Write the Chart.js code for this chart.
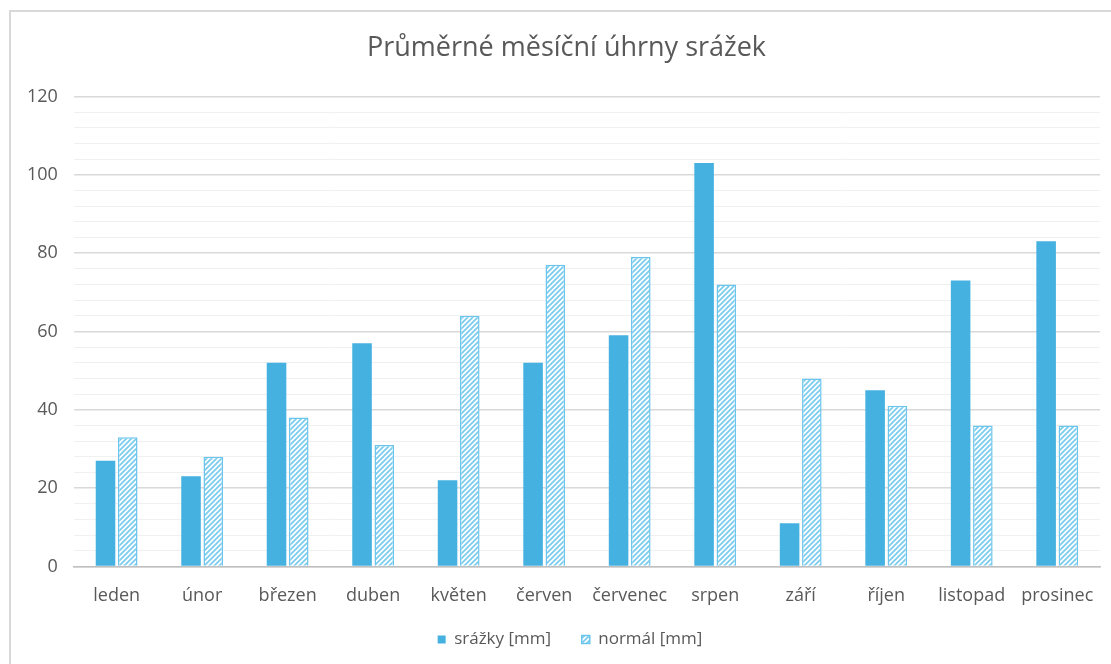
<!DOCTYPE html>
<html lang="cs">
<head>
<meta charset="UTF-8">
<title>Průměrné měsíční úhrny srážek</title>
<script src="https://cdn.jsdelivr.net/npm/chart.js@4.4.1/dist/chart.umd.min.js"></script>
<style>
    body{
        margin: 0;
        padding: 0;
        background: white;
        overflow: hidden;
    }
    .frame{
        position: absolute;
        left: 9px;
        top: 10px;
        width: 1130px;
        height: 700px;
        border: 2px solid #d9d9d9;
    }
    .wrap{
        position: absolute;
        left: 0;
        top: 0;
        width: 1111px;
        height: 664px;
    }
</style>
</head>
<body>
<div class="frame"></div>
<div class="wrap"><canvas id="chart"></canvas></div>
<script>
    const months = ['leden','únor','březen','duben','květen','červen','červenec','srpen','září','říjen','listopad','prosinec'];
    const srazky = [27, 23, 52, 57, 22, 52, 59, 103, 11, 45, 73, 83];
    const normal = [33, 28, 38, 31, 64, 77, 79, 72, 48, 41, 36, 36];
    const yMax = 120;

    const blue = '#45b1e1';
    const lightBlue = '#7fcdee';

    // diagonal hatch for the "normal" series
    function hatch(){
        const s = 5;
        const c = document.createElement('canvas');
        c.width = s; c.height = s;
        const g = c.getContext('2d');
        g.fillStyle = 'white';
        g.fillRect(0, 0, s, s);
        g.strokeStyle = lightBlue;
        g.lineWidth = 1.9;
        g.beginPath();
        g.moveTo(0, s); g.lineTo(s, 0);
        g.moveTo(-1, 1); g.lineTo(1, -1);
        g.moveTo(s - 1, s + 1); g.lineTo(s + 1, s - 1);
        g.stroke();
        return g.createPattern(c, 'repeat');
    }

    // original frame is cropped on the right, so title and legend sit a bit right of the canvas centre
    const nudge = {
        id: 'nudge',
        afterLayout(chart){
            if (chart.titleBlock) chart.titleBlock.left += 22;
            if (chart.legend) chart.legend.left += 29;
        }
    };

    const font = "'Open Sans', sans-serif";
    const grey = '#595959';

    new Chart(document.getElementById('chart'), {
        type: 'bar',
        data: {
            labels: months,
            datasets: [{
                // trailing spaces widen the gap to the second legend item
                label: 'srážky [mm]    ',
                data: srazky,
                backgroundColor: blue,
                borderColor: blue,
                borderWidth: 0
            }, {
                label: 'normál [mm]',
                data: normal,
                backgroundColor: hatch(),
                borderColor: '#6cc5ec',
                borderWidth: 1.5
            }]
        },
        options: {
            responsive: true,
            maintainAspectRatio: false,
            animation: false,
            categoryPercentage: 0.52,
            barPercentage: 0.88,
            layout: { padding: { left: 11, right: 11, top: 24, bottom: 6 } },
            plugins: {
                title: {
                    display: true,
                    text: 'Průměrné měsíční úhrny srážek',
                    color: grey,
                    font: { family: font, size: 27, weight: 'normal' },
                    padding: { top: 8, bottom: 32 }
                },
                legend: {
                    position: 'bottom',
                    labels: {
                        color: grey,
                        font: { family: font, size: 17 },
                        boxWidth: 8,
                        boxHeight: 8,
                        padding: 13
                    }
                },
                tooltip: { enabled: false }
            },
            scales: {
                x: {
                    grid: { display: false },
                    border: { color: '#bfbfbf', width: 1.5 },
                    ticks: { color: grey, font: { family: font, size: 18 }, padding: 11 }
                },
                y: {
                    min: 0,
                    max: yMax,
                    border: { display: false },
                    grid: {
                        color: ctx => ctx.tick.value % 20 === 0 ? '#d9d9d9' : '#f0f0f0',
                        lineWidth: ctx => ctx.tick.value % 20 === 0 ? 1.5 : 1,
                        drawTicks: false
                    },
                    ticks: {
                        stepSize: 4,
                        autoSkip: false,
                        color: grey,
                        font: { family: font, size: 18 },
                        padding: 16,
                        callback: v => v % 20 === 0 ? v : ''
                    }
                }
            }
        },
        plugins: [nudge]
    });
</script>
</body>
</html>
